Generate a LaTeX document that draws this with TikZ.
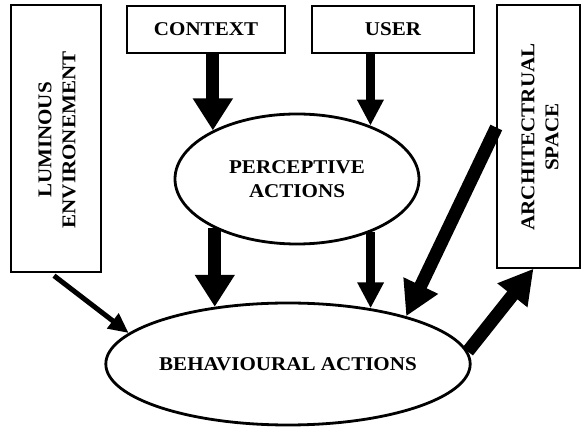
\documentclass[tikz,border=0pt]{standalone}
\usepackage{fontspec}
\setmainfont{Liberation Serif}[FakeStretch=1.08]
\usetikzlibrary{arrows.meta,shapes.geometric}
\begin{document}
\begin{tikzpicture}[x=1pt,y=-1pt,
  box/.style={draw,line width=1.4pt,rectangle,inner sep=0pt,font=\lbl,align=center},
  oval/.style={draw,line width=2.8pt,ellipse,inner sep=0pt,font=\lbl,align=center},
  bigarrow/.style={line width=13pt,-{Triangle[width=38pt,length=32pt]}},
  midarrow/.style={line width=9pt,-{Triangle[width=25pt,length=26pt]}},
  diagarrow/.style={line width=13pt,-{Triangle[width=36pt,length=34pt]}},
  thinarrow/.style={line width=5pt,-{Triangle[width=18pt,length=20pt]}},
]
\newcommand{\lbl}{\bfseries\fontsize{19.5}{24}\selectfont}
\useasboundingbox (0,0) rectangle (582,427);
\node[box,minimum width=90,minimum height=267] (lum) at (56,138.5) {};
\node[rotate=90,font=\lbl,align=center] (lumtext) at (57,140) {LUMINOUS\\ENVIRONEMENT};
\node[box,minimum width=158,minimum height=47] (ctx) at (206,29.5) {CONTEXT};
\node[box,minimum width=162,minimum height=47] (usr) at (393,29.5) {USER};
\node[box,minimum width=83,minimum height=263] (arch) at (538.5,136.5) {};
\node[rotate=90,font=\lbl,align=center] (archtext) at (540,137) {ARCHITECTRUAL\\SPACE};
\node[oval,minimum width=244,minimum height=130] (perc) at (297,179) {PERCEPTIVE\\ACTIONS};
\node[oval,minimum width=356,minimum height=122] (beh) at (288,364) {BEHAVIOURAL ACTIONS};
% arrows into perceptive actions
\draw[bigarrow] (perc.150.5 |- ctx.south) -- (perc.150.5);
\draw[midarrow] (perc.36 |- usr.south) -- (perc.36);
% arrows from perceptive to behavioural
\draw[bigarrow] (beh.142 |- perc.211) -- (beh.142);
\draw[midarrow] (beh.34.3 |- perc.-35.5) -- (beh.34.3);
% luminous environment to behavioural
\draw[thinarrow] ([xshift=-2pt,yshift=-3pt]lum.south) -- (beh.169);
% architectural space to behavioural
\draw[diagarrow] ([yshift=9pt]arch.west) -- (beh.22);
% behavioural to architectural space
\draw[diagarrow] (beh.4) -- ([xshift=-5pt]arch.south);
\end{tikzpicture}
\end{document}
